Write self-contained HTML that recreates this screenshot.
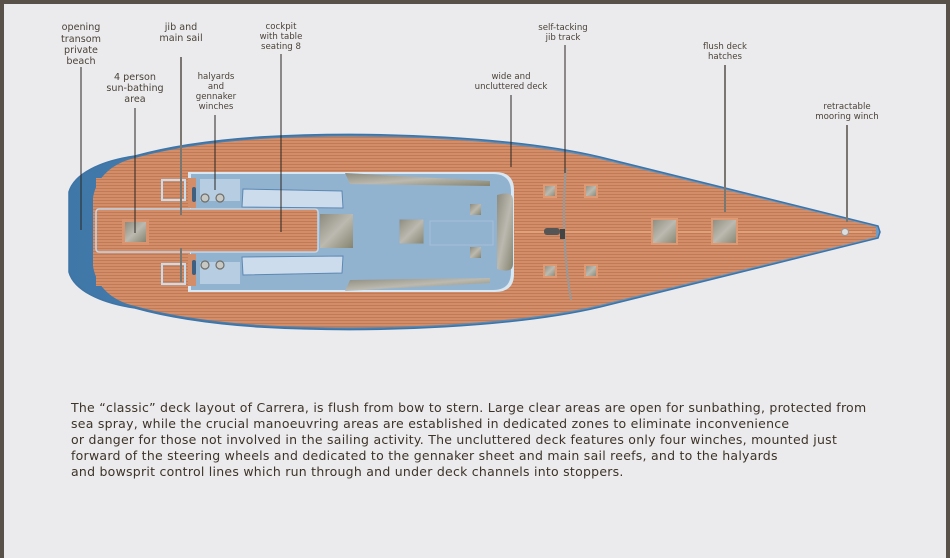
<!DOCTYPE html>
<html><head><meta charset="utf-8"><style>
html,body{margin:0;padding:0}
body{width:950px;height:558px;background:#58514a;position:relative;overflow:hidden}
#inner{position:absolute;left:4px;top:4px;width:942px;height:554px;background:#ebebed}
svg{position:absolute;left:0;top:0}
.lbl{font-family:"DejaVu Sans","Liberation Sans",sans-serif;font-size:8.6px;fill:#4a4238;text-anchor:middle}
.big{font-size:9.6px}
#para{position:absolute;left:71px;top:400px;font-family:"DejaVu Sans","Liberation Sans",sans-serif;font-size:12.5px;line-height:16px;color:#3d3328;white-space:nowrap;letter-spacing:0.25px}
</style></head><body>
<div id="inner"></div>
<svg width="950" height="558" viewBox="0 0 950 558">
<defs>
<pattern id="teak" width="6" height="3" patternUnits="userSpaceOnUse">
<rect width="6" height="3" fill="#d38d68"/><rect y="2" width="6" height="1" fill="#c07a56"/>
</pattern>
<linearGradient id="gh" x1="0" y1="0" x2="1" y2="1"><stop offset="0" stop-color="#8d8b7e"/><stop offset="0.5" stop-color="#bcbab0"/><stop offset="1" stop-color="#85836f"/></linearGradient>
<linearGradient id="blu" x1="0" y1="0" x2="1" y2="0"><stop offset="0" stop-color="#3f77a8"/><stop offset="1" stop-color="#6d9cc6"/></linearGradient>
</defs>
<!-- hull -->
<path d="M878 226 L600 157 C520 138,380 130,260 137 C200 141,160 149,135 156 C100 161,74 174,69 192 L69 272 C74 290,100 303,135 308 C160 315,200 323,260 327 C380 334,520 326,600 307 L878 238 L880 232 Z" fill="url(#blu)" stroke="#3e74a6" stroke-width="1.5"/>
<path d="M876 227 L600 159 C520 140,380 132,260 139 C200 143,160 151,135 158 C112 163,96 178,93 198 L93 266 C96 286,112 301,135 306 C160 313,200 321,260 325 C380 332,520 324,600 305 L876 237 Z" fill="url(#teak)"/>
<line x1="515" y1="232" x2="872" y2="232" stroke="#e0a07a" stroke-width="2"/>
<!-- cockpit -->
<path d="M188 172 L495 172 Q514 172 514 190 L514 274 Q514 292 495 292 L188 292 Z" fill="#d8e7f2"/>
<path d="M191 174 L493 174 Q511 174 511 192 L511 272 Q511 290 493 290 L191 290 Z" fill="#92b3d0"/>
<path d="M345 173 L490 181 L490 186 L350 184 Z" fill="url(#gh)"/>
<path d="M345 291 L490 283 L490 278 L350 280 Z" fill="url(#gh)"/>
<path d="M497 195 Q513 190 513 200 L513 264 Q513 274 497 269 Z" fill="url(#gh)"/>
<!-- stern teak platform -->
<rect x="96" y="178" width="94" height="108" fill="url(#teak)"/>
<rect x="96" y="209" width="222" height="43" rx="3" fill="url(#teak)" stroke="#c4d8ea" stroke-width="1.5"/>
<rect x="188" y="178" width="8" height="30" fill="#d38d68"/>
<rect x="188" y="254" width="8" height="32" fill="#d38d68"/>
<!-- seats -->
<path d="M243 189 L342 191 L343 208 L242 207 Z" fill="#ccdcec" stroke="#5c88b3" stroke-width="1"/>
<path d="M243 275 L342 273 L343 256 L242 257 Z" fill="#ccdcec" stroke="#5c88b3" stroke-width="1"/>
<rect x="200" y="179" width="40" height="22" fill="#b7cde1"/>
<rect x="200" y="262" width="40" height="22" fill="#b7cde1"/>
<!-- hatches -->
<rect x="122" y="219" width="27" height="26" fill="#d9936e"/><rect x="125" y="222" width="21" height="20" fill="url(#gh)"/>
<rect x="161" y="179" width="25" height="22" fill="#c9dcec"/><rect x="163" y="181" width="21" height="18" fill="url(#teak)"/>
<rect x="161" y="263" width="25" height="22" fill="#c9dcec"/><rect x="163" y="265" width="21" height="18" fill="url(#teak)"/>
<rect x="320" y="214" width="33" height="34" fill="url(#gh)"/>
<rect x="399" y="219" width="25" height="25" fill="url(#gh)" stroke="#8fb0cd"/>
<rect x="470" y="204" width="11" height="11" fill="url(#gh)"/>
<rect x="470" y="247" width="11" height="11" fill="url(#gh)"/>
<rect x="430" y="221" width="63" height="24" fill="none" stroke="#a9c2da" stroke-width="0.8"/>
<rect x="192" y="187" width="4" height="15" rx="2" fill="#3f5f80"/>
<rect x="192" y="260" width="4" height="15" rx="2" fill="#3f5f80"/>
<g fill="#c8c8c4" stroke="#6e6e6a" stroke-width="1.2">
<circle cx="205" cy="198" r="4"/><circle cx="220" cy="198" r="4"/><circle cx="205" cy="265" r="4"/><circle cx="220" cy="265" r="4"/></g>
<!-- foredeck hatches -->
<g fill="url(#gh)" stroke="#de9a75" stroke-width="2">
<rect x="544" y="185" width="12" height="12"/><rect x="585" y="185" width="12" height="12"/>
<rect x="544" y="265" width="12" height="12"/><rect x="585" y="265" width="12" height="12"/>
<rect x="652" y="219" width="25" height="25"/><rect x="712" y="219" width="25" height="25"/></g>
<rect x="544" y="228" width="16" height="7" rx="3" fill="#555"/>
<path d="M566 168 Q560 232 571 300" fill="none" stroke="#999" stroke-width="2"/>
<rect x="560" y="229" width="5" height="10" fill="#444"/>
<circle cx="845" cy="232" r="3.5" fill="#ddd" stroke="#999"/>
<!-- leader lines -->
<g stroke="#2a2622" stroke-width="1">
<line x1="81" y1="67" x2="81" y2="230"/>
<line x1="135" y1="108" x2="135" y2="233"/>
<line x1="215" y1="115" x2="215" y2="190"/>
<line x1="281" y1="54" x2="281" y2="232"/>
<line x1="511" y1="95" x2="511" y2="167"/>
<line x1="565" y1="45" x2="565" y2="173"/>
</g>
<g stroke="#7a7672" stroke-width="2">
<line x1="181" y1="57" x2="181" y2="215"/>
<line x1="181" y1="248" x2="181" y2="282"/>
<line x1="725" y1="65" x2="725" y2="212"/>
<line x1="847" y1="125" x2="847" y2="222"/>
</g>
<!-- labels -->
<g class="lbl big">
<text x="81" y="30">opening</text><text x="81" y="42">transom</text><text x="81" y="53">private</text><text x="81" y="64">beach</text>
<text x="135" y="80">4 person</text><text x="135" y="91">sun-bathing</text><text x="135" y="102">area</text>
<text x="181" y="30">jib and</text><text x="181" y="41">main sail</text>
</g>
<g class="lbl">
<text x="216" y="79">halyards</text><text x="216" y="89">and</text><text x="216" y="99">gennaker</text><text x="216" y="109">winches</text>
<text x="281" y="29">cockpit</text><text x="281" y="39">with table</text><text x="281" y="49">seating 8</text>
<text x="511" y="79">wide and</text><text x="511" y="89">uncluttered deck</text>
<text x="563" y="30">self-tacking</text><text x="563" y="40">jib track</text>
<text x="725" y="49">flush deck</text><text x="725" y="59">hatches</text>
<text x="847" y="109">retractable</text><text x="847" y="119">mooring winch</text>
</g>
</svg>
<div id="para">The “classic” deck layout of Carrera, is flush from bow to stern. Large clear areas are open for sunbathing, protected from<br>sea spray, while the crucial manoeuvring areas are established in dedicated zones to eliminate inconvenience<br>or danger for those not involved in the sailing activity. The uncluttered deck features only four winches, mounted just<br>forward of the steering wheels and dedicated to the gennaker sheet and main sail reefs, and to the halyards<br>and bowsprit control lines which run through and under deck channels into stoppers.</div>
</body></html>
